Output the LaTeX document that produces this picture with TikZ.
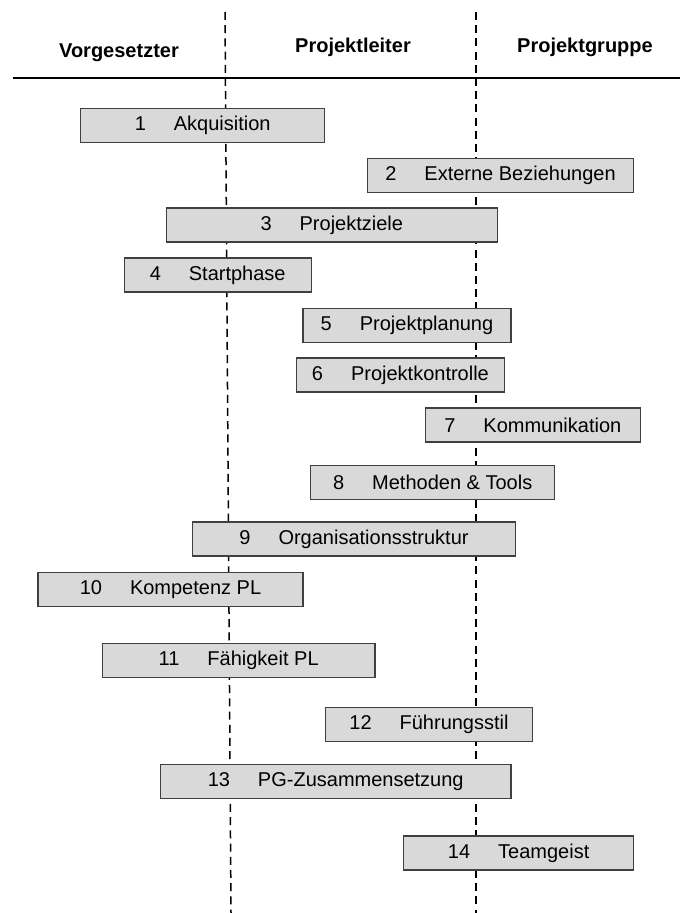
\documentclass[tikz,border=0pt]{standalone}
\usepackage{fontspec}
\setmainfont{Liberation Sans}
\begin{document}
\begin{tikzpicture}[x=0.5pt,y=-0.5pt,
  lane/.style={draw=black,line width=0.75pt,dash pattern=on 4pt off 2.6pt},
  head/.style={font=\fontsize{10}{12}\selectfont\bfseries,inner sep=0pt},
  box/.style={draw=black!75,fill=black!15,line width=0.6pt,minimum height=17pt,inner sep=0pt,font=\fontsize{10}{12}\selectfont}]
\useasboundingbox (0,0) rectangle (680,913);
\coordinate (t1) at (225,12); \coordinate (b1) at (231,913);
\coordinate (t2) at (476,12); \coordinate (b2) at (476,913);
\coordinate (h1) at (13,78); \coordinate (h2) at (680,78);
\draw[lane] (t1) -- (b1);
\draw[lane] (t2) -- (b2);
\draw[line width=1pt] (h1) -- (h2);
\node[head] (hv) at (119,53) {Vorgesetzter};
\node[head] (hl) at (353,47) {Projektleiter};
\node[head] (hg) at (585,47) {Projektgruppe};
\newcommand{\lbl}[2]{#1\hspace{1.4em}#2}
\node[box,minimum width=122pt] (n1) at (202.7,125.5) {\lbl{1}{Akquisition}};
\node[box,minimum width=133pt] (n2) at (500.5,175.8) {\lbl{2}{Externe Beziehungen}};
\node[box,minimum width=165.3pt] (n3) at (331.8,225) {\lbl{3}{Projektziele}};
\node[box,minimum width=93.5pt] (n4) at (217.7,275) {\lbl{4}{Startphase}};
\node[box,minimum width=104pt] (n5) at (407,325.3) {\lbl{5}{Projektplanung}};
\node[box,minimum width=104pt] (n6) at (400.4,375) {\lbl{6}{Projektkontrolle}};
\node[box,minimum width=107.3pt] (n7) at (532.8,425) {\lbl{7}{Kommunikation}};
\node[box,minimum width=121.9pt] (n8) at (432.7,482.2) {\lbl{8}{Methoden \& Tools}};
\node[box,minimum width=161.3pt] (n9) at (354,538.9) {\lbl{9}{Organisationsstruktur}};
\node[box,minimum width=132.5pt] (n10) at (170.5,589.3) {\lbl{10}{Kompetenz PL}};
\node[box,minimum width=136.3pt] (n11) at (238.7,660.4) {\lbl{11}{Fähigkeit PL}};
\node[box,minimum width=103.8pt] (n12) at (429,724.4) {\lbl{12}{Führungsstil}};
\node[box,minimum width=175.3pt] (n13) at (335.7,781.3) {\lbl{13}{PG-Zusammensetzung}};
\node[box,minimum width=114.9pt] (n14) at (518.6,853) {\lbl{14}{Teamgeist}};
\end{tikzpicture}
\end{document}
